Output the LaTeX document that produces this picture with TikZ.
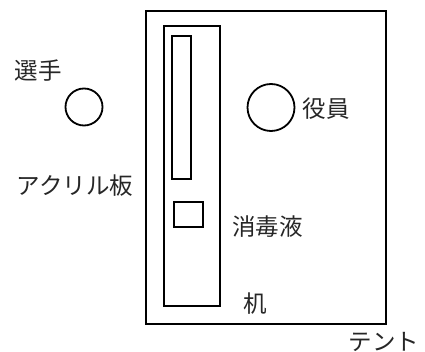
\documentclass[tikz,border=0pt]{standalone}
\usepackage{fontspec}
\newfontfamily\jp{Noto Sans CJK JP}
\begin{document}
\begin{tikzpicture}[x=1pt,y=-1pt,
  line/.style={draw=black,line width=1.8pt},
  lbl/.style={inner sep=0pt,font=\jp\fontsize{23.5}{25}\selectfont,text=black!85}]
\useasboundingbox (0,0) rectangle (425,352);
% tent
\node[line,rectangle,minimum width=240,minimum height=313,inner sep=0pt] (tent) at (266,167.5) {};
% desk
\node[line,rectangle,minimum width=56,minimum height=280,inner sep=0pt] (desk) at (192,166) {};
% acrylic board
\node[line,rectangle,minimum width=19,minimum height=143,inner sep=0pt] (acryl) at (181.5,107.5) {};
% disinfectant
\node[line,rectangle,minimum width=29,minimum height=25,inner sep=0pt] (dis) at (188.5,214.5) {};
% people
\node[line,circle,minimum size=37,inner sep=0pt] (player) at (84,107) {};
\node[line,circle,minimum size=47,inner sep=0pt] (officer) at (271,107.5) {};
% labels
\node[lbl] (tplayer) at (38,71) {選手};
\node[lbl] (tofficer) at (326,109) {役員};
\node[lbl] (tacryl) at (75,186) {アクリル板};
\node[lbl] (tdis) at (267.5,226.5) {消毒液};
\node[lbl] (tdesk) at (255,304) {机};
\node[lbl] (ttent) at (384,342) {テント};
\end{tikzpicture}
\end{document}
